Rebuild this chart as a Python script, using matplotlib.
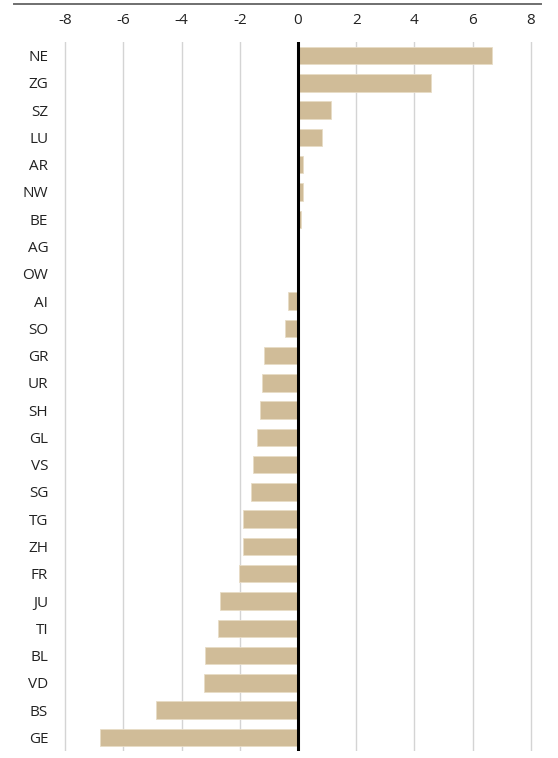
import matplotlib
matplotlib.use("Agg")
import matplotlib.pyplot as plt
from matplotlib.lines import Line2D

CANTONS = ["NE", "ZG", "SZ", "LU", "AR", "NW", "BE", "AG", "OW", "AI", "SO", "GR", "UR",
           "SH", "GL", "VS", "SG", "TG", "ZH", "FR", "JU", "TI", "BL", "VD", "BS", "GE"]
VALUES = [6.66, 4.58, 1.14, 0.82, 0.18, 0.17, 0.10, 0.05, 0.01, -0.33, -0.43, -1.17, -1.25,
          -1.30, -1.41, -1.53, -1.60, -1.90, -1.90, -2.03, -2.67, -2.74, -3.19, -3.24, -4.87, -6.79]
X_TICKS = [-8, -6, -4, -2, 0, 2, 4, 6, 8]

plt.rcParams["font.family"] = ["Open Sans", "DejaVu Sans"]

fig = plt.figure(figsize=(5.58, 7.58), dpi=100)
W, H = 558, 758
left, right = 56.5, 539.5
top, bottom = 42, 751
ax = fig.add_axes([left / W, 1 - bottom / H, (right - left) / W, (bottom - top) / H])

n = len(CANTONS)
ypos = list(range(n))
ax.barh(ypos, VALUES, height=0.64, color="#d0bc98", edgecolor="#e8dcc6", linewidth=0.6, zorder=2)
ax.axvline(0, color="black", linewidth=2.2, zorder=3)

ax.set_xlim(-8.3, 8.3)
ax.set_ylim(n - 0.5, -0.5)
ax.set_xticks(X_TICKS, labels=[f"{t}" for t in X_TICKS])
ax.set_yticks(ypos, labels=CANTONS)
ax.xaxis.tick_top()
ax.tick_params(axis="x", length=0, pad=10, labelsize=11, labelcolor="#222222")
ax.tick_params(axis="y", length=0, pad=6, labelsize=11, labelcolor="#222222")
ax.grid(axis="x", color="#d4d4d4", linewidth=1, zorder=0)
ax.set_axisbelow(True)
for s in ax.spines.values():
    s.set_visible(False)

# thin rule across the very top of the figure
fig.add_artist(Line2D([14 / W, 541 / W], [1 - 3.5 / H, 1 - 3.5 / H],
                      color="#6f6f6f", linewidth=1.4, transform=fig.transFigure))

fig.savefig("out.png", dpi=100)
